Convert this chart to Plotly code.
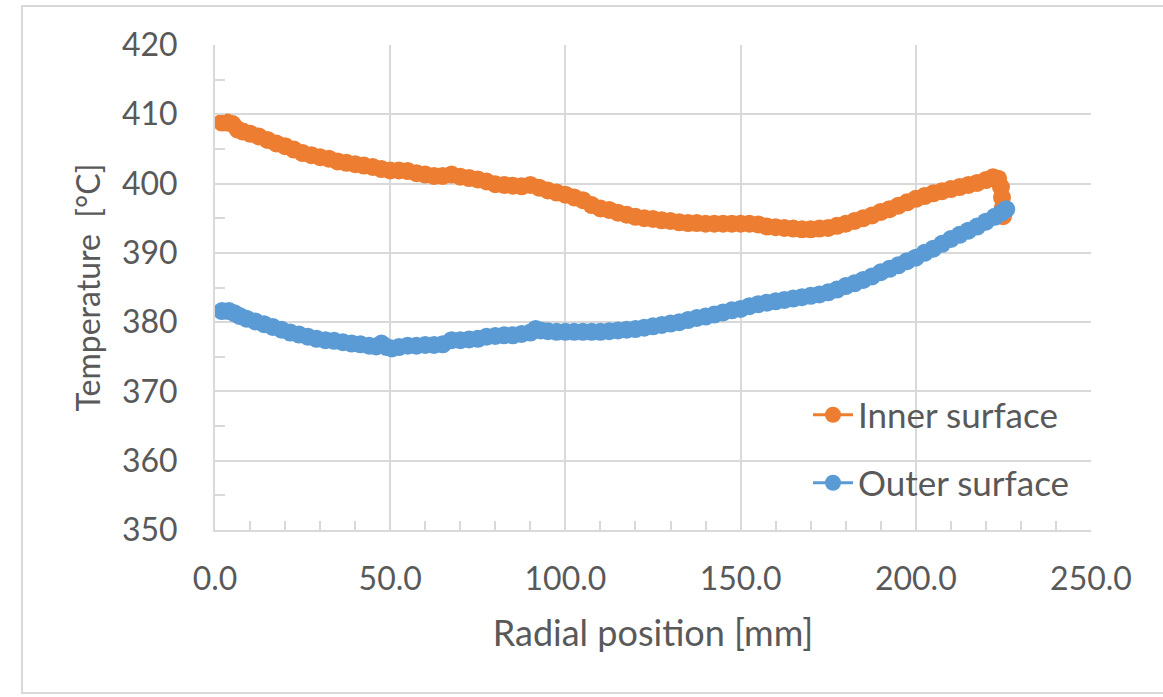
import plotly.graph_objects as go

# ---- data ----
inner_x = [2.0, 3.5, 5.0, 6.5, 8.0, 10.0, 12.5, 15.0, 17.5, 20.0, 22.5, 25.0, 27.5, 30.0, 32.5,
           35.0, 37.5, 40.0, 42.5, 45.0, 47.5, 50.0, 52.5, 55.0, 57.5, 60.0, 62.5, 65.0, 67.5,
           70.0, 72.5, 75.0, 77.5, 80.0, 82.5, 85.0, 87.5, 90.0, 92.5, 95.0, 97.5, 100.0, 102.5,
           105.0, 107.5, 110.0, 112.5, 115.0, 117.5, 120.0, 122.5, 125.0, 127.5, 130.0, 132.5,
           135.0, 137.5, 140.0, 142.5, 145.0, 147.5, 150.0, 152.5, 155.0, 157.5, 160.0, 162.5,
           165.0, 167.5, 170.0, 172.5, 175.0, 177.5, 180.0, 182.5, 185.0, 187.5, 190.0, 192.5,
           195.0, 197.5, 200.0, 202.5, 205.0, 207.5, 210.0, 212.5, 215.0, 217.5, 220.0, 222.0,
           223.5, 224.3, 224.6, 224.8, 224.9]
inner_t = [408.8, 408.8, 408.6, 407.8, 407.5, 407.2, 406.8, 406.3, 405.8, 405.4, 404.9, 404.4,
           404.1, 403.8, 403.6, 403.2, 403.0, 402.8, 402.6, 402.4, 402.1, 401.9, 401.9, 401.8,
           401.5, 401.3, 401.1, 401.1, 401.3, 401.0, 400.8, 400.6, 400.3, 399.9, 399.8, 399.7,
           399.6, 399.8, 399.4, 399.0, 398.7, 398.4, 398.0, 397.6, 396.9, 396.4, 396.2, 395.8,
           395.5, 395.2, 395.0, 394.9, 394.7, 394.6, 394.4, 394.3, 394.3, 394.2, 394.2, 394.2,
           394.2, 394.2, 394.2, 394.1, 393.8, 393.7, 393.6, 393.5, 393.4, 393.4, 393.5, 393.6,
           393.9, 394.2, 394.6, 395.0, 395.4, 395.9, 396.3, 396.8, 397.3, 397.8, 398.2, 398.6,
           398.9, 399.2, 399.5, 399.8, 400.1, 400.5, 400.9, 400.7, 399.5, 398.0, 396.5, 395.3]

outer_x = [2.0, 4.0, 5.5, 7.0, 9.0, 11.5, 14.0, 16.5, 19.0, 21.5, 24.0, 26.5, 29.0, 31.5, 34.0,
           36.5, 39.0, 41.5, 44.0, 46.0, 47.5, 49.0, 50.5, 52.5, 55.0, 57.5, 60.0, 62.5, 65.0,
           67.5, 70.0, 72.5, 75.0, 77.5, 80.0, 82.5, 85.0, 87.5, 90.0, 91.5, 93.0, 95.0, 97.5,
           100.0, 102.5, 105.0, 107.5, 110.0, 112.5, 115.0, 117.5, 120.0, 122.5, 125.0, 127.5,
           130.0, 132.5, 135.0, 137.5, 140.0, 142.5, 145.0, 147.5, 150.0, 152.5, 155.0, 157.5,
           160.0, 162.5, 165.0, 167.5, 170.0, 172.5, 175.0, 177.5, 180.0, 182.5, 185.0, 187.5,
           190.0, 192.5, 195.0, 197.5, 200.0, 202.5, 205.0, 207.5, 210.0, 212.5, 215.0, 217.5,
           220.0, 222.5, 224.5, 225.8]
outer_t = [381.6, 381.6, 381.3, 380.9, 380.5, 380.1, 379.7, 379.3, 378.9, 378.5, 378.2, 377.9,
           377.6, 377.4, 377.3, 377.1, 376.9, 376.8, 376.6, 376.5, 376.9, 376.4, 376.2, 376.4,
           376.6, 376.6, 376.7, 376.7, 376.8, 377.4, 377.4, 377.5, 377.6, 377.9, 378.0, 378.1,
           378.1, 378.3, 378.5, 379.0, 378.8, 378.7, 378.6, 378.6, 378.6, 378.6, 378.6, 378.6,
           378.7, 378.8, 378.9, 379.0, 379.2, 379.4, 379.6, 379.8, 380.0, 380.3, 380.6, 380.8,
           381.1, 381.4, 381.7, 381.9, 382.3, 382.6, 382.8, 383.0, 383.2, 383.4, 383.6, 383.8,
           384.0, 384.3, 384.7, 385.2, 385.6, 386.1, 386.6, 387.2, 387.7, 388.2, 388.8, 389.3,
           390.0, 390.6, 391.3, 392.0, 392.6, 393.2, 393.8, 394.5, 395.2, 395.8, 396.3]

series_names = ["Inner surface", "Outer surface"]
x_ticks = [0, 50, 100, 150, 200, 250]
x_tick_text = ["0.0", "50.0", "100.0", "150.0", "200.0", "250.0"]
y_ticks = [350, 360, 370, 380, 390, 400, 410, 420]

ORANGE = "#ED7D31"
BLUE = "#5B9BD5"
GRID = "#D9D9D9"
TEXT = "#595959"
FONT = "Lato, 'Open Sans', sans-serif"

fig = go.Figure()
fig.add_trace(go.Scatter(
    x=inner_x, y=inner_t, name=series_names[0], mode="lines+markers",
    line=dict(color=ORANGE, width=3), marker=dict(color=ORANGE, size=18),
    legend="legend", showlegend=True))
fig.add_trace(go.Scatter(
    x=outer_x, y=outer_t, name=series_names[1], mode="lines+markers",
    line=dict(color=BLUE, width=3), marker=dict(color=BLUE, size=18),
    legend="legend2", showlegend=True))

L, R, T, B = 215, 72, 45, 167
W, H = 1163, 697
pw, ph = W - L - R, H - T - B

def px_x(p):
    return (p - L) / pw

def px_y(p):
    return (H - B - p) / ph

legend_style = dict(xanchor="left", yanchor="middle", bgcolor="rgba(0,0,0,0)",
                    font=dict(size=35, color=TEXT), itemwidth=40)

fig.update_layout(
    width=W, height=H,
    margin=dict(l=L, r=R, t=T, b=B),
    paper_bgcolor="white", plot_bgcolor="white",
    showlegend=True,
    font=dict(family=FONT, color=TEXT, size=32),
    xaxis=dict(
        range=[0, 250], tickvals=x_ticks, ticktext=x_tick_text,
        showgrid=True, gridcolor=GRID, gridwidth=1.5,
        showline=True, linecolor=GRID, linewidth=2,
        ticks="inside", ticklen=9, tickcolor=GRID, tickwidth=1.5,
        minor=dict(dtick=10, tick0=0, ticks="inside", ticklen=9, tickcolor=GRID,
                   tickwidth=1.5, showgrid=False),
        ticklabelstandoff=20, zeroline=False,
        tickfont=dict(size=32, color=TEXT),
        title=dict(text="Radial position [mm]", font=dict(size=36, color=TEXT), standoff=24),
    ),
    yaxis=dict(
        range=[350, 420], tickvals=y_ticks,
        showgrid=True, gridcolor=GRID, gridwidth=1.5,
        showline=True, linecolor=GRID, linewidth=2,
        ticks="inside", ticklen=10, tickcolor=GRID, tickwidth=1.5,
        minor=dict(dtick=5, tick0=350, ticks="inside", ticklen=10, tickcolor=GRID,
                   tickwidth=1.5, showgrid=False),
        ticklabelstandoff=29, zeroline=False,
        tickfont=dict(size=32, color=TEXT),
        title=dict(text="Temperature\u00a0\u00a0[°C]", font=dict(size=32, color=TEXT), standoff=12),
    ),
    legend=dict(x=px_x(808), y=px_y(415), **legend_style),
    legend2=dict(x=px_x(808), y=px_y(483), **legend_style),
    shapes=[dict(type="rect", xref="paper", yref="paper",
                 x0=px_x(22), x1=px_x(1175), y0=px_y(693), y1=px_y(6),
                 line=dict(color=GRID, width=2), fillcolor="rgba(0,0,0,0)", layer="below")],
)

fig.write_html("out.html", config={"displayModeBar": False},
               post_script="document.body.style.margin='0px';")
